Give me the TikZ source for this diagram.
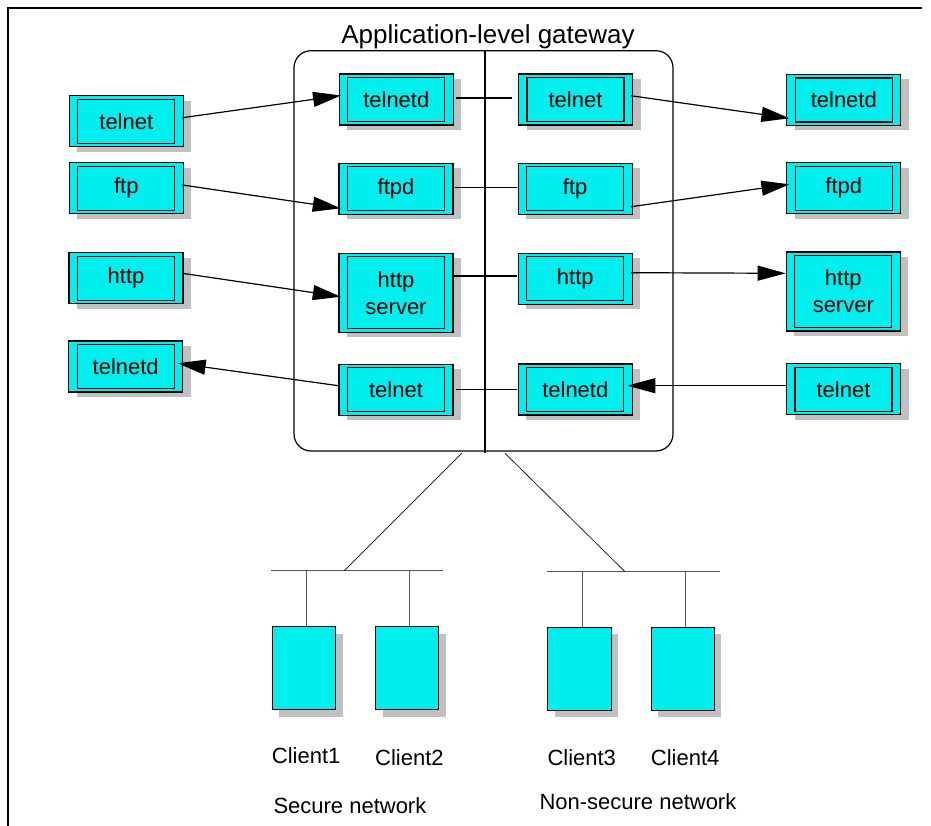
\documentclass[tikz,border=0pt]{standalone}
\usepackage{fontspec}
\setmainfont{Liberation Sans}
\usetikzlibrary{arrows.meta,shadows}
\definecolor{boxcyan}{RGB}{0,238,238}
\definecolor{shadowgray}{RGB}{192,192,192}
\definecolor{busgray}{RGB}{85,85,85}
\newcommand{\gwbox}[4]{\node[outerbox] (#1) at (#2,#3) {}; \node[innerbox] (#1i) at (#2,#3) {#4};}
\newcommand{\gwtall}[4]{\node[outerbox, minimum height=79pt] (#1) at (#2,#3) {}; \node[innerbox, minimum height=72pt] (#1i) at (#2,#3) {#4};}
\begin{document}
\begin{tikzpicture}[x=1pt,y=-1pt,
  outerbox/.style={draw, fill=boxcyan, line width=1.3pt, minimum width=114pt, minimum height=51pt, inner sep=0pt,
     drop shadow={shadow xshift=8pt, shadow yshift=-5pt, fill=shadowgray, opacity=1}},
  innerbox/.style={draw, line width=1.3pt, minimum width=97pt, minimum height=44pt, inner sep=0pt,
     align=center, font={\fontsize{22}{27}\selectfont}},
  client/.style={draw, fill=boxcyan, line width=1pt, minimum width=63.4pt, minimum height=83.3pt, inner sep=0pt,
     drop shadow={shadow xshift=7pt, shadow yshift=-7pt, fill=shadowgray, opacity=1}},
  conn/.style={line width=1.2pt, -{Triangle[length=28pt,width=15pt]}},
  link/.style={line width=1.2pt},
  bus/.style={line width=1pt, busgray},
  diag/.style={line width=0.8pt, black!85},
  lbl/.style={inner sep=0pt, font={\fontsize{22}{27}\selectfont}},
  frame/.style={line width=1.4pt}
]
\useasboundingbox (0,0) rectangle (931,826);

% frame
\coordinate (fa) at (8,826);
\coordinate (fb) at (8,8);
\coordinate (fc) at (922,8);
\draw[frame] (fa) -- (fb) -- (fc);

% gateway
\node[draw, line width=1.2pt, rounded corners=17pt, minimum width=379pt, minimum height=400.3pt, inner sep=0pt] (gw) at (483.5,250.85) {};
\node[lbl, anchor=base, font={\fontsize{26}{30}\selectfont}] (title) at (488,43.3) {Application-level gateway};
\coordinate (dvt) at (485,50.7);
\coordinate (dvb) at (485,453.3);
\draw[link] (dvt) -- (dvb);

% left column
\gwbox{lt}{126.3}{121.2}{telnet}
\gwbox{lf}{126.3}{188.3}{ftp}
\gwbox{lh}{126.0}{278.3}{http}
\gwbox{ltd}{125.7}{366.5}{telnetd}

% middle left
\gwbox{mtd}{396.3}{99.5}{telnetd}
\gwbox{mfd}{396.0}{188.7}{ftpd}
\gwtall{mhs}{396.0}{292.8}{http\\server}
\gwbox{mt}{396.0}{389.7}{telnet}

% middle right
\gwbox{nt}{575.5}{99.5}{telnet}
\gwbox{nf}{575.2}{188.7}{ftp}
\gwbox{nh}{575.3}{278.7}{http}
\gwbox{ntd}{575.3}{389.5}{telnetd}

% right column
\gwbox{rtd}{843.8}{100.0}{telnetd}
\gwbox{rfd}{843.8}{188.3}{ftpd}
\gwtall{rhs}{843.3}{291.5}{http\\server}
\gwbox{rt}{843.5}{389.2}{telnet}

% arrows
\draw[conn] ([shift={(-1.6,-3.5)}]lt.east) -- ([shift={(2.4,-4)}]mtd.west);
\draw[conn] ([shift={(-1.6,-3.3)}]lf.east) -- ([shift={(2.4,19.6)}]mfd.west);
\draw[conn] ([shift={(-1.3,-5)}]lh.east) -- ([shift={(2.4,3.9)}]mhs.west);
\draw[conn] ([shift={(0,-4)}]mt.west) -- ([shift={(-5.7,-3.2)}]ltd.east);
\draw[conn] ([shift={(-2.3,-3.8)}]nt.east) -- ([shift={(3.3,18.3)}]rtd.west);
\draw[conn] ([shift={(-1.7,18)}]nf.east) -- ([shift={(3.3,-4)}]rfd.west);
\draw[conn] ([shift={(-2,-6)}]nh.east) -- ([shift={(0,-18.2)}]rhs.west);
\draw[conn] ([shift={(0,-3.5)}]rt.west) -- ([shift={(-5.6,-3.8)}]ntd.east);

% links across divider
\draw[link] ([shift={(1.7,-1.5)}]mtd.east) -- ([shift={(-5.4,-1.5)}]nt.west);
\draw[link] ([shift={(1,-1)}]mfd.east) -- ([shift={(-0.5,-1)}]nf.west);
\draw[link] ([shift={(0.5,-16.8)}]mhs.east) -- ([shift={(-0.5,-2.7)}]nh.west);
\draw[link] ([shift={(2.5,-0.4)}]mt.east) -- ([shift={(-0.3,-0.2)}]ntd.west);

% clients
\node[client] (c1) at (304.0,668.3) {};
\node[client] (c2) at (407.2,668.3) {};
\node[client] (c3) at (579.3,668.8) {};
\node[client] (c4) at (682.7,668.8) {};

% buses
\coordinate (bl1) at (271,570.7);
\coordinate (bl2) at (443.3,570.7);
\coordinate (br1) at (546.7,571.7);
\coordinate (br2) at (720,571.7);
\draw[bus] (bl1) -- (bl2);
\draw[bus] (br1) -- (br2);
\draw[bus] ([xshift=2pt]c1.north) -- ([xshift=2pt]c1.north |- bl1);
\draw[bus] ([xshift=2pt]c2.north) -- ([xshift=2pt]c2.north |- bl1);
\draw[bus] ([xshift=2.7pt]c3.north) -- ([xshift=2.7pt]c3.north |- br1);
\draw[bus] ([xshift=2.6pt]c4.north) -- ([xshift=2.6pt]c4.north |- br1);

% diagonals from gateway
\coordinate (dl) at (461.7,453.3);
\coordinate (dr) at (505,453.3);
\coordinate (jl) at (344.3,570.7);
\coordinate (jr) at (625,571.7);
\draw[diag] (dl) -- (jl);
\draw[diag] (dr) -- (jr);

% labels
\node[lbl, anchor=base west] (c1l) at (271.7,763.3) {Client1};
\node[lbl, anchor=base west] (c2l) at (375.0,765.0) {Client2};
\node[lbl, anchor=base west] (c3l) at (547.3,765.0) {Client3};
\node[lbl, anchor=base west] (c4l) at (650.7,765.0) {Client4};
\node[lbl, anchor=base west] (sn) at (273.3,813.3) {Secure network};
\node[lbl, anchor=base west] (nsn) at (539.3,809.3) {Non-secure network};
\end{tikzpicture}
\end{document}
